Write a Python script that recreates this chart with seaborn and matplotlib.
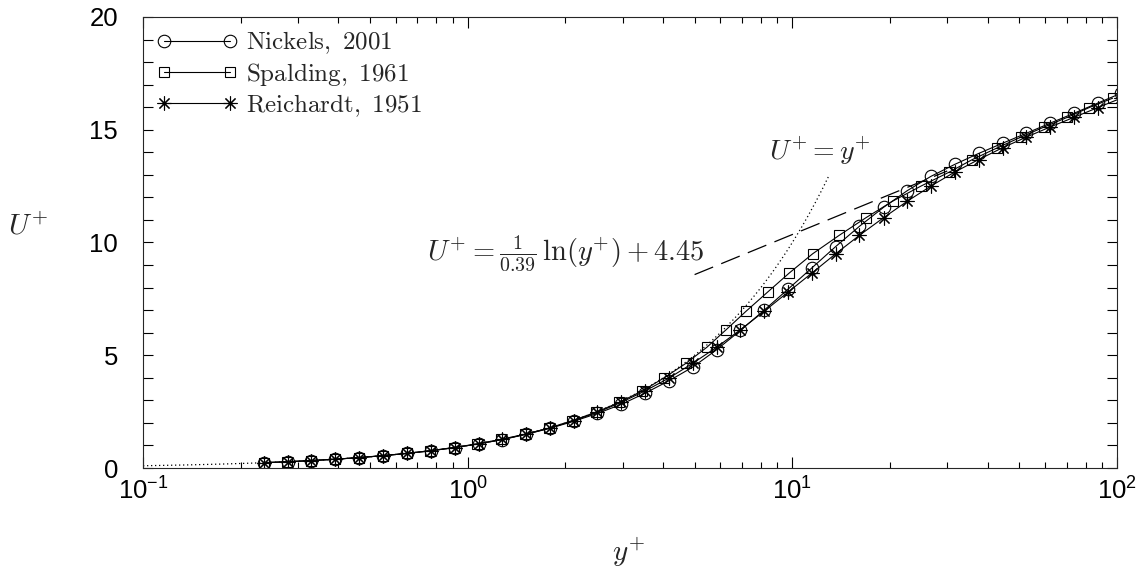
import numpy as np
import pandas as pd
import matplotlib
matplotlib.use("Agg")
import matplotlib.pyplot as plt
import seaborn as sns
from matplotlib.ticker import LogLocator, MultipleLocator, NullFormatter

# Wall distance y+ for the Nickels and Reichardt profiles
y_plus = [0.236, 0.279, 0.330, 0.391, 0.463, 0.549, 0.650, 0.769, 0.911, 1.08,
          1.28, 1.51, 1.79, 2.12, 2.51, 2.97, 3.52, 4.17, 4.93, 5.84,
          6.92, 8.19, 9.70, 11.5, 13.6, 16.1, 19.1, 22.6, 26.7, 31.6,
          37.5, 44.4, 52.5, 62.2, 73.7, 87.2, 103.0]

nickels_u = [0.235, 0.278, 0.329, 0.390, 0.461, 0.547, 0.647, 0.764, 0.904, 1.07,
             1.26, 1.49, 1.76, 2.07, 2.42, 2.82, 3.32, 3.87, 4.47, 5.24,
             6.10, 7.00, 7.93, 8.88, 9.82, 10.72, 11.56, 12.30, 12.93, 13.46,
             13.95, 14.40, 14.84, 15.29, 15.73, 16.18, 16.62]

reichardt_u = [0.235, 0.278, 0.329, 0.390, 0.461, 0.547, 0.648, 0.765, 0.906, 1.07,
               1.27, 1.50, 1.77, 2.10, 2.47, 2.91, 3.42, 3.99, 4.64, 5.35,
               6.13, 6.95, 7.80, 8.65, 9.50, 10.32, 11.10, 11.83, 12.50, 13.12,
               13.68, 14.20, 14.67, 15.12, 15.55, 15.98, 16.40]

# Spalding's law gives y+ as a function of U+
spalding_y = [0.235, 0.278, 0.329, 0.390, 0.461, 0.547, 0.648, 0.765, 0.906, 1.07,
              1.27, 1.50, 1.78, 2.10, 2.48, 2.93, 3.45, 4.02, 4.70, 5.45,
              6.25, 7.20, 8.39, 9.79, 11.55, 13.95, 16.86, 20.35, 24.89, 30.42,
              35.87, 42.82, 50.54, 59.63, 70.33, 82.0, 97.0]
spalding_u = [0.235, 0.278, 0.329, 0.390, 0.461, 0.547, 0.648, 0.765, 0.906, 1.07,
              1.27, 1.50, 1.77, 2.10, 2.47, 2.91, 3.42, 3.99, 4.64, 5.35,
              6.13, 6.95, 7.80, 8.65, 9.50, 10.32, 11.10, 11.83, 12.50, 13.12,
              13.68, 14.20, 14.67, 15.12, 15.55, 15.98, 16.40]

series_labels = ["Nickels, 2001", "Spalding, 1961", "Reichardt, 1951"]

# Reference laws: viscous sublayer and log law
kappa = 0.39
log_b = 4.45
visc_range = (0.1, 13.0)
log_range = (5.0, 30.0)

sns.set_style("ticks")
plt.rcParams["font.family"] = ["Liberation Sans", "DejaVu Sans"]
plt.rcParams["mathtext.fontset"] = "cm"
plt.rcParams["axes.linewidth"] = 0.8

fig = plt.figure(figsize=(11.37, 5.72), dpi=100)
ax = fig.add_axes([0.1258, 0.1818, 0.8566, 0.7885])

# Sublayer and log-law guide lines
yv = np.logspace(np.log10(visc_range[0]), np.log10(visc_range[1]), 300)
ax.plot(yv, yv, color="k", lw=0.9, ls=(0, (1, 2.2)))
yl = np.logspace(np.log10(log_range[0]), np.log10(log_range[1]), 300)
ax.plot(yl, np.log(yl) / kappa + log_b, color="k", lw=0.9, ls=(0, (16, 7)))

common = dict(color="k", linewidth=0.8, markeredgecolor="k",
              markerfacecolor="none", markeredgewidth=0.8,
              estimator=None, sort=False, ax=ax)

df_n = pd.DataFrame({"y": y_plus, "u": nickels_u})
df_s = pd.DataFrame({"y": spalding_y, "u": spalding_u})
df_r = pd.DataFrame({"y": y_plus, "u": reichardt_u})

sns.lineplot(data=df_n, x="y", y="u", marker="o", markersize=9,
             label=series_labels[0], **common)
sns.lineplot(data=df_s, x="y", y="u", marker="s", markersize=7.5,
             label=series_labels[1], **common)
sns.lineplot(data=df_r, x="y", y="u", marker=(8, 2, 0), markersize=10,
             label=series_labels[2], **common)

ax.set_xscale("log")
ax.set_xlim(0.1, 100)
ax.set_ylim(0, 20)

ax.xaxis.set_major_locator(LogLocator(base=10, numticks=10))
ax.xaxis.set_minor_locator(LogLocator(base=10, subs=np.arange(2, 10), numticks=30))
ax.xaxis.set_minor_formatter(NullFormatter())
ax.yaxis.set_major_locator(MultipleLocator(5))
ax.yaxis.set_minor_locator(MultipleLocator(1))

ax.tick_params(which="both", direction="in", top=True, right=True,
               width=0.8, labelsize=18.5, colors="k")
ax.tick_params(axis="x", which="major", length=8, pad=7)
ax.tick_params(axis="x", which="minor", length=4.3)
ax.tick_params(axis="y", which="both", length=7)
ax.tick_params(axis="y", which="major", pad=18)

ax.set_xlabel(r"$y^{+}$", fontsize=21)
ax.set_ylabel(r"$U^{+}$", fontsize=21, rotation=0)
ax.yaxis.set_label_coords(-0.118, 0.505)
ax.xaxis.set_label_coords(0.498, -0.148)

ax.text(8.49, 13.67, r"$U^{+} = y^{+}$", fontsize=20, ha="left", va="baseline")
ax.text(0.748, 9.23, r"$U^{+} = \frac{1}{0.39}\,\ln(y^{+}) + 4.45$",
        fontsize=20.5, ha="left", va="baseline")

handles, labels = ax.get_legend_handles_labels()
if ax.get_legend() is not None:
    ax.get_legend().remove()
leg = ax.legend(handles, [r"$\mathrm{%s}$" % l.replace(" ", r"\ ") for l in labels],
                loc="upper left", bbox_to_anchor=(0.0036, 0.9945), frameon=False,
                numpoints=2, handlelength=3.25, handletextpad=0.32,
                labelspacing=0.18, borderaxespad=0.0, fontsize=18)

fig.savefig("out.png", dpi=100)
